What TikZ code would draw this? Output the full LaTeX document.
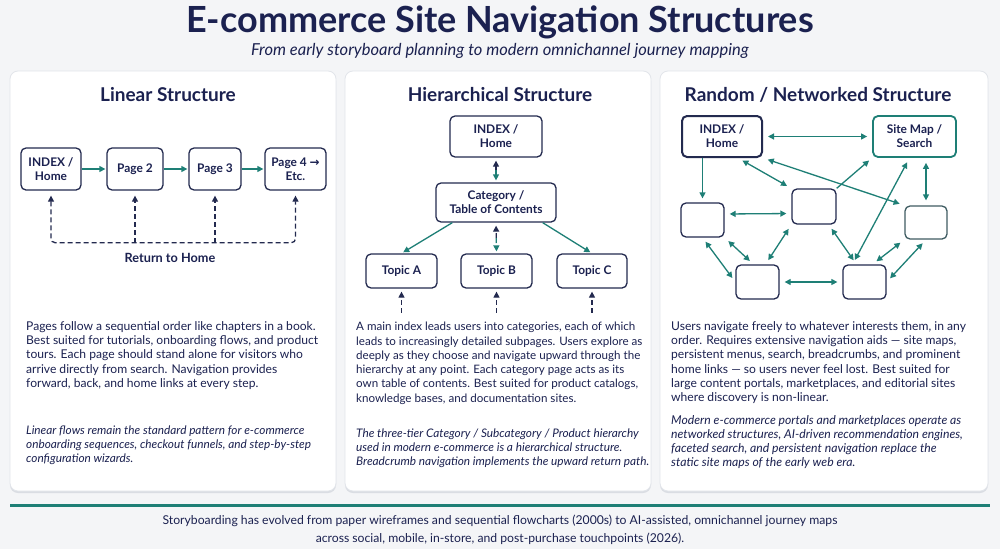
\documentclass[tikz,border=0pt]{standalone}
\usepackage{fontspec}
\setmainfont{Lato}
\newfontfamily\djv{DejaVu Sans}
\usetikzlibrary{arrows.meta,calc}
\definecolor{navy}{HTML}{1B2150}
\definecolor{boxline}{HTML}{232A4F}
\definecolor{tealc}{HTML}{1E7F76}
\definecolor{bgc}{HTML}{F4F5F7}
\definecolor{panelline}{HTML}{E2E5EA}
\definecolor{shadowc}{HTML}{DADDE3}
\definecolor{grayteal}{HTML}{3F5C62}
\tikzset{
 panel/.style={fill=white, draw=panelline, line width=0.8pt, rounded corners=8pt},
 pshadow/.style={fill=shadowc, rounded corners=8pt},
 pbox/.style={draw=boxline, line width=1.3pt, rounded corners=5pt, fill=white, align=center, text=navy, font=\fontsize{11.9}{14}\selectfont\bfseries, inner sep=0pt},
 tip/.style={-{Triangle[length=6pt,width=6pt]}},
 twotip/.style={{Triangle[length=6pt,width=6pt]}-{Triangle[length=6pt,width=6pt]}},
 tline/.style={draw=tealc, line width=1.3pt},
 dline/.style={draw=boxline, line width=1.3pt, dash pattern=on 5pt off 3pt},
 dteal/.style={draw=tealc, line width=1.3pt, dash pattern=on 5pt off 3pt},
 ptitle/.style={font=\fontsize{19}{22}\selectfont\bfseries, text=navy},
 body/.style={font=\fontsize{12.1}{14.3}\selectfont, text=navy, align=left, anchor=north west, inner sep=0pt},
 note/.style={font=\fontsize{11.8}{14}\selectfont\itshape, text=navy, align=left, anchor=north west, inner sep=0pt},
}
\begin{document}
\begin{tikzpicture}[x=1pt,y=-1pt]
\fill[bgc] (0,0) rectangle (1000,549);
\useasboundingbox (0,0) rectangle (1000,549);
% title
\node[font=\fontsize{36}{40}\selectfont\bfseries, text=navy] (title) at (500,22) {E-commerce Site Navigation Structures};
\node[font=\fontsize{16.5}{19}\selectfont\itshape, text=navy] (subtitle) at (500,51) {From early storyboard planning to modern omnichannel journey mapping};
% panels
\foreach \xa/\xb in {10/336, 345/651, 660/988}{
  \fill[pshadow] (\xa,73) rectangle (\xb,493);
  \draw[panel] (\xa,71) rectangle (\xb,491);
}
% ---------- Linear ----------
\node[ptitle] (t1) at (168,95) {Linear Structure};
\node[pbox, minimum width=60pt, minimum height=42pt] (l1) at (51,169) {INDEX /\\Home};
\node[pbox, minimum width=56pt, minimum height=42pt] (l2) at (135,169) {Page 2};
\node[pbox, minimum width=52pt, minimum height=42pt] (l3) at (215,169) {Page 3};
\node[pbox, minimum width=61pt, minimum height=42pt] (l4) at (295.5,169) {Page 4 {\djv\bfseries →}\\Etc.};
\draw[tline, tip, shorten >=1pt] (l1) -- (l2);
\draw[tline, tip, shorten >=1pt] (l2) -- (l3);
\draw[tline, tip, shorten >=1pt] (l3) -- (l4);
\coordinate (r1) at ($(l1.south)+(0,52)$);
\coordinate (r2) at ($(l2.south)+(0,52)$);
\coordinate (r3) at ($(l3.south)+(0,52)$);
\coordinate (r4) at ($(l4.south)+(0,52)$);
\draw[dline, twotip, rounded corners=4pt, shorten <=5pt, shorten >=5pt] (l1.south) -- (r1) -- (r4) -- (l4.south);
\draw[dline, tip, shorten >=5pt] (r2) -- (l2.south);
\draw[dline, tip, shorten >=5pt] (r3) -- (l3.south);
\node[font=\fontsize{12.7}{15}\selectfont\bfseries, text=navy] (ret) at (170,258) {Return to Home};
\node[body] (p1) at (26,321) {Pages follow a sequential order like chapters in a book.\\Best suited for tutorials, onboarding flows, and product\\tours. Each page should stand alone for visitors who\\arrive directly from search. Navigation provides\\forward, back, and home links at every step.};
\node[note] (n1) at (26,426) {Linear flows remain the standard pattern for e-commerce\\onboarding sequences, checkout funnels, and step-by-step\\configuration wizards.};
% ---------- Hierarchical ----------
\node[ptitle] (t2) at (500,95) {Hierarchical Structure};
\node[pbox, minimum width=92pt, minimum height=41pt] (hi) at (496,136.5) {INDEX /\\Home};
\node[pbox, minimum width=120pt, minimum height=39pt] (hc) at (496,202.5) {Category /\\Table of Contents};
\node[pbox, minimum width=71pt, minimum height=34pt] (ta) at (401.5,271) {Topic A};
\node[pbox, minimum width=71pt, minimum height=34pt] (tb) at (496.5,271) {Topic B};
\node[pbox, minimum width=70pt, minimum height=34pt] (tc) at (592,271) {Topic C};
\coordinate (hm1) at ($(hi.south)!0.5!(hc.north)$);
\draw[dline, tip, shorten >=3pt] (hm1) -- (hi.south);
\draw[dteal, tip, shorten >=2pt] (hm1) -- (hc.north);
\coordinate (hm2) at ($(hc.south)!0.5!(tb.north)$);
\draw[dline, tip, shorten >=3pt] (hm2) -- (hc.south);
\draw[dteal, tip, shorten >=2pt] (hm2) -- (tb.north);
\draw[tline, tip, shorten >=2pt] ($(hc.south west)+(17,0)$) -- (ta.north);
\draw[tline, tip, shorten >=2pt] ($(hc.south east)+(-14,0)$) -- (tc.north);
\draw[dline, tip, shorten >=3pt] ($(ta.south)+(0,24)$) -- (ta.south);
\draw[dline, tip, shorten >=3pt] ($(tb.south)+(0,24)$) -- (tb.south);
\draw[dline, tip, shorten >=3pt] ($(tc.south)+(0,24)$) -- (tc.south);
\node[body, font=\fontsize{11.6}{14.3}\selectfont] (p2) at (356,322) {A main index leads users into categories, each of which\\leads to increasingly detailed subpages. Users explore as\\deeply as they choose and navigate upward through the\\hierarchy at any point. Each category page acts as its\\own table of contents. Best suited for product catalogs,\\knowledge bases, and documentation sites.};
\node[note] (n2) at (356,429) {The three-tier Category / Subcategory / Product hierarchy\\used in modern e-commerce is a hierarchical structure.\\Breadcrumb navigation implements the upward return path.};
% ---------- Random ----------
\node[ptitle] (t3) at (818,95) {Random / Networked Structure};
\node[pbox, line width=2pt, minimum width=80pt, minimum height=41pt] (ri) at (722,136.5) {INDEX /\\Home};
\node[pbox, draw=tealc, line width=1.8pt, minimum width=83pt, minimum height=41pt] (rs) at (914.5,136.5) {Site Map /\\Search};
\node[pbox, minimum width=43pt, minimum height=34pt] (b1) at (702.5,220) {};
\node[pbox, minimum width=44pt, minimum height=35pt] (b2) at (814,206.5) {};
\node[pbox, draw=grayteal, minimum width=42pt, minimum height=33pt] (b3) at (926,222.5) {};
\node[pbox, minimum width=43pt, minimum height=34pt] (b4) at (757.5,282) {};
\node[pbox, minimum width=43pt, minimum height=34pt] (b5) at (864.5,282) {};
\tikzset{nt/.style={tline, twotip, shorten <=5pt, shorten >=5pt}}
\draw[nt] (ri.east) -- (rs.west);
\draw[tline, tip, shorten >=4pt] (b1.north |- ri.south) -- (b1.north);
\draw[nt] ($(ri.south east)+(-25,0)$) -- (b2.north west);
\draw[nt] (ri.south east) -- (b3.north west);
\draw[tline, tip, shorten >=4pt] (b2.north east) -- (rs.south west);
\draw[nt] ($(rs.south)+(-5,0)$) -- ($(b5.north)+(-12,0)$);
\draw[nt] (b3.north |- rs.south) -- (b3.north);
\draw[nt] ($(b1.east)+(0,-6)$) -- ($(b2.west)+(0,7)$);
\draw[nt] (b1.south east) -- ($(b4.north)+(-4,0)$);
\draw[nt] (b1.south) -- (b4.west);
\draw[nt] (b2.south west) -- ($(b4.north)+(8,0)$);
\draw[nt] ($(b2.south east)+(-8,0)$) -- ($(b5.north)+(-8,0)$);
\draw[nt] (b4.east) -- (b5.west);
\draw[nt] (b3.south west) -- ($(b5.north)+(8,0)$);
\draw[nt] (b3.south) -- (b5.east);
\node[body] (p3) at (671,321) {Users navigate freely to whatever interests them, in any\\order. Requires extensive navigation aids --- site maps,\\persistent menus, search, breadcrumbs, and prominent\\home links --- so users never feel lost. Best suited for\\large content portals, marketplaces, and editorial sites\\where discovery is non-linear.};
\node[note, font=\fontsize{12.2}{14}\selectfont\itshape] (n3) at (671,415) {Modern e-commerce portals and marketplaces operate as\\networked structures, AI-driven recommendation engines,\\faceted search, and persistent navigation replace the\\static site maps of the early web era.};
% footer
\draw[draw=tealc, line width=3pt] (10,505) -- (990,505);
\node[font=\fontsize{12.2}{18}\selectfont, text=navy, align=center] (foot) at (500,530) {Storyboarding has evolved from paper wireframes and sequential flowcharts (2000s) to AI-assisted, omnichannel journey maps\\across social, mobile, in-store, and post-purchase touchpoints (2026).};
\end{tikzpicture}
\end{document}
